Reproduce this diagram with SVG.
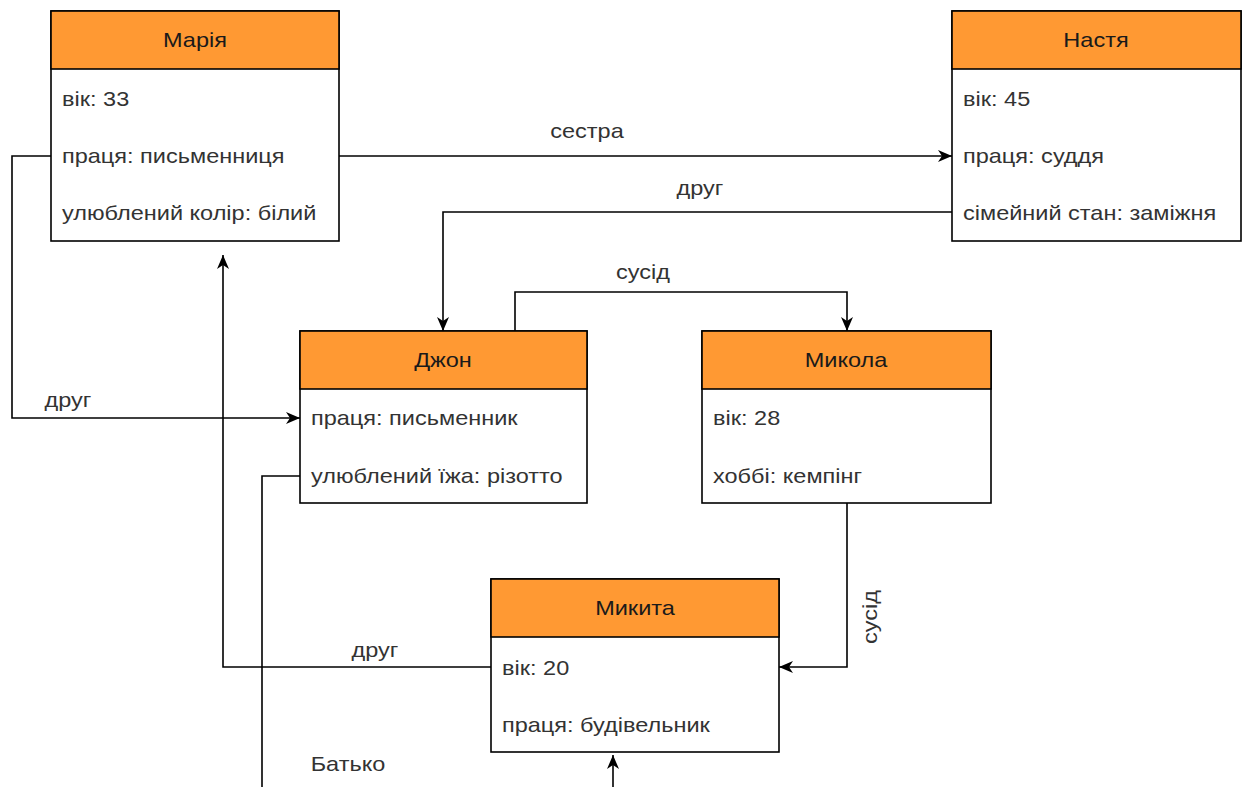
<svg xmlns="http://www.w3.org/2000/svg" width="1246" height="787" viewBox="0 0 1246 787">
  <defs>
    <marker id="arrow" markerUnits="userSpaceOnUse" markerWidth="16" markerHeight="14" viewBox="0 0 16 14" refX="15" refY="7" orient="auto">
      <path d="M1,1 L15,7 L1,13 L5,7 Z" fill="#000"/>
    </marker>
    <style>
      .box { fill: #fff; stroke: #000; stroke-width: 1.6; }
      .head { fill: #FF9933; stroke: #000; stroke-width: 1.6; }
      text { font-family: "Liberation Sans", Arial, sans-serif; font-size: 21px; }
      .title { fill: #1a1a1a; text-anchor: middle; }
      .row { fill: #333; }
      .lbl { fill: #333; text-anchor: middle; }
      .edge { fill: none; stroke: #000; stroke-width: 1.6; }
    </style>
  </defs>
  <rect width="1246" height="787" fill="#fff"/>

  <!-- connectors; labels use a slightly widened face -->
  <g id="connectors">
    <path class="edge" d="M339,156 H952" marker-end="url(#arrow)"/>
    <path class="edge" d="M952,212 H443 V331" marker-end="url(#arrow)"/>
    <path class="edge" d="M515,331 V292 H847 V331" marker-end="url(#arrow)"/>
    <path class="edge" d="M51,156 H12 V418 H300" marker-end="url(#arrow)"/>
    <path class="edge" d="M847,503 V667 H779" marker-end="url(#arrow)"/>
    <path class="edge" d="M491,667 H223 V255" marker-end="url(#arrow)"/>
    <path class="edge" d="M300,476 H262 V790"/>
    <path class="edge" d="M613,790 V755" marker-end="url(#arrow)"/>
    <text class="lbl" transform="translate(587,138) scale(1.12,1)">сестра</text>
    <text class="lbl" transform="translate(700,195) scale(1.12,1)">друг</text>
    <text class="lbl" transform="translate(643,279) scale(1.12,1)">сусід</text>
    <text class="lbl" transform="translate(68,407) scale(1.12,1)">друг</text>
    <text class="lbl" transform="translate(877,617) rotate(-90) scale(1.12,1)">сусід</text>
    <text class="lbl" transform="translate(375,657) scale(1.12,1)">друг</text>
    <text class="lbl" transform="translate(348,771) scale(1.12,1)">Батько</text>
  </g>

  <!-- Марія -->
  <g id="node-maria">
    <rect class="box" x="51" y="11" width="288" height="230"/>
    <rect class="head" x="51" y="11" width="288" height="58"/>
    <text class="title" transform="translate(195,47) scale(1.12,1)">Марія</text>
    <text class="row" transform="translate(62,106) scale(1.12,1)">вік: 33</text>
    <text class="row" transform="translate(62,163) scale(1.12,1)">праця: письменниця</text>
    <text class="row" transform="translate(62,220) scale(1.12,1)">улюблений колір: білий</text>
  </g>

  <!-- Настя -->
  <g id="node-nastia">
    <rect class="box" x="952" y="11" width="289" height="230"/>
    <rect class="head" x="952" y="11" width="289" height="58"/>
    <text class="title" transform="translate(1096,47) scale(1.12,1)">Настя</text>
    <text class="row" transform="translate(963,106) scale(1.12,1)">вік: 45</text>
    <text class="row" transform="translate(963,163) scale(1.12,1)">праця: суддя</text>
    <text class="row" transform="translate(963,220) scale(1.12,1)">сімейний стан: заміжня</text>
  </g>

  <!-- Джон -->
  <g id="node-john">
    <rect class="box" x="300" y="331" width="287" height="172"/>
    <rect class="head" x="300" y="331" width="287" height="58"/>
    <text class="title" transform="translate(443,367) scale(1.12,1)">Джон</text>
    <text class="row" transform="translate(311,425) scale(1.12,1)">праця: письменник</text>
    <text class="row" transform="translate(311,483) scale(1.12,1)">улюблений їжа: різотто</text>
  </g>

  <!-- Микола -->
  <g id="node-mykola">
    <rect class="box" x="702" y="331" width="289" height="172"/>
    <rect class="head" x="702" y="331" width="289" height="58"/>
    <text class="title" transform="translate(846,367) scale(1.12,1)">Микола</text>
    <text class="row" transform="translate(713,425) scale(1.12,1)">вік: 28</text>
    <text class="row" transform="translate(713,483) scale(1.12,1)">хоббі: кемпінг</text>
  </g>

  <!-- Микита -->
  <g id="node-mykyta">
    <rect class="box" x="491" y="579" width="288" height="173"/>
    <rect class="head" x="491" y="579" width="288" height="58"/>
    <text class="title" transform="translate(635,615) scale(1.12,1)">Микита</text>
    <text class="row" transform="translate(502,675) scale(1.12,1)">вік: 20</text>
    <text class="row" transform="translate(502,732) scale(1.12,1)">праця: будівельник</text>
  </g>
</svg>
